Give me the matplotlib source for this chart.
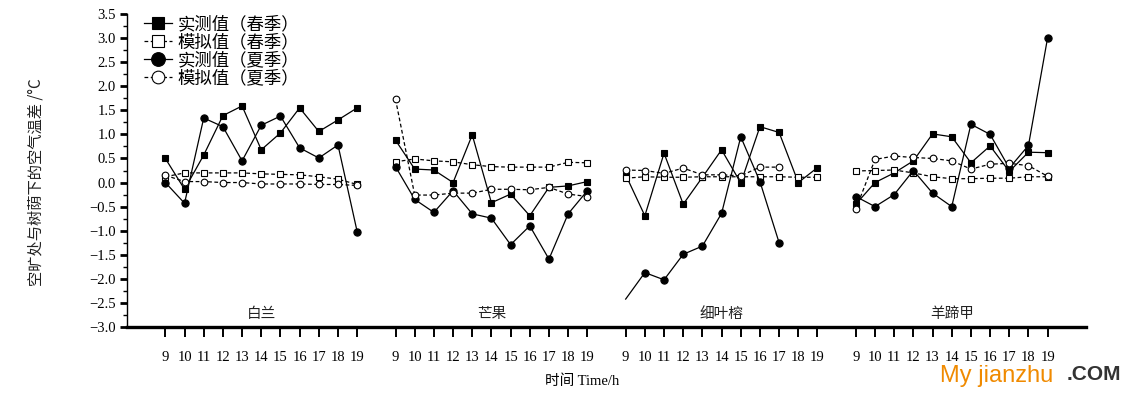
import matplotlib
matplotlib.use('Agg')
import matplotlib.pyplot as plt
import numpy as np

plt.rcParams['font.family'] = ['Liberation Serif', 'Noto Sans CJK SC']
plt.rcParams['axes.unicode_minus'] = True

CJK = ['Noto Sans CJK SC', 'DejaVu Sans']

# === data ===
hours = [9, 10, 11, 12, 13, 14, 15, 16, 17, 18, 19]
species = ['白兰', '芒果', '细叶榕', '羊蹄甲']

# 实测值（春季）
spring_meas_bailan  = [0.50, -0.14, 0.57, 1.39, 1.59, 0.68, 1.03, 1.55, 1.06, 1.30, 1.55]
spring_meas_mangguo = [0.88, 0.28, 0.26, 0.00, 0.99, -0.42, -0.24, -0.69, -0.10, -0.07, 0.02]
spring_meas_xiyerong = [0.16, -0.69, 0.61, -0.45, 0.11, 0.68, -0.01, 1.16, 1.04, 0.00, 0.31]
spring_meas_yangtijia = [-0.45, 0.00, 0.20, 0.45, 1.01, 0.95, 0.41, 0.76, 0.23, 0.63, 0.62]

# 模拟值（春季）
spring_sim_bailan  = [0.12, 0.20, 0.20, 0.20, 0.20, 0.18, 0.17, 0.16, 0.12, 0.07, -0.04]
spring_sim_mangguo = [0.43, 0.49, 0.45, 0.43, 0.37, 0.33, 0.32, 0.32, 0.32, 0.42, 0.41]
spring_sim_xiyerong = [0.09, 0.12, 0.11, 0.11, 0.12, 0.12, 0.12, 0.12, 0.12, 0.11, 0.11]
spring_sim_yangtijia = [0.24, 0.25, 0.26, 0.20, 0.12, 0.08, 0.08, 0.09, 0.09, 0.12, 0.12]

# 实测值（夏季）
summer_meas_bailan  = [0.00, -0.43, 1.34, 1.16, 0.45, 1.19, 1.38, 0.72, 0.51, 0.78, -1.02]
summer_meas_mangguo = [0.33, -0.35, -0.62, -0.17, -0.65, -0.74, -1.29, -0.90, -1.59, -0.65, -0.17]
summer_meas_xiyerong = [-2.42, -1.87, -2.02, -1.49, -1.32, -0.64, 0.95, 0.02, -1.25, np.nan, np.nan]
summer_meas_yangtijia = [-0.29, -0.50, -0.25, 0.25, -0.22, -0.50, 1.21, 1.00, 0.30, 0.77, 3.01]

# 模拟值（夏季）
summer_sim_bailan  = [0.15, 0.02, 0.02, 0.00, 0.00, -0.03, -0.03, -0.03, -0.04, -0.04, -0.06]
summer_sim_mangguo = [1.73, -0.26, -0.26, -0.22, -0.22, -0.14, -0.14, -0.15, -0.10, -0.24, -0.29]
summer_sim_xiyerong = [0.26, 0.25, 0.19, 0.30, 0.16, 0.16, 0.14, 0.32, 0.32, np.nan, np.nan]
summer_sim_yangtijia = [-0.55, 0.48, 0.55, 0.52, 0.50, 0.45, 0.28, 0.38, 0.40, 0.35, 0.13]


def _join(groups):
    # put the four species side by side, NaN between them so lines break
    xs, ys = [], []
    for g, vals in enumerate(groups):
        xs += [g * 12 + (h - 9) for h in hours] + [np.nan]
        ys += list(vals) + [np.nan]
    return np.array(xs, float), np.array(ys, float)


fig = plt.figure(figsize=(11.32, 3.93), dpi=100)
ax = fig.add_axes([127 / 1132, 1 - 327 / 393, (1086 - 127) / 1132, (327 - 14) / 393])

series = [
    ('实测值（春季）', [spring_meas_bailan, spring_meas_mangguo, spring_meas_xiyerong, spring_meas_yangtijia],
     dict(marker='s', ls='-', mfc='black', ms=4.6)),
    ('模拟值（春季）', [spring_sim_bailan, spring_sim_mangguo, spring_sim_xiyerong, spring_sim_yangtijia],
     dict(marker='s', ls=(0, (3, 2)), mfc='white', ms=4.4)),
    ('实测值（夏季）', [summer_meas_bailan, summer_meas_mangguo, summer_meas_xiyerong, summer_meas_yangtijia],
     dict(marker='o', ls='-', mfc='black', ms=5.2)),
    ('模拟值（夏季）', [summer_sim_bailan, summer_sim_mangguo, summer_sim_xiyerong, summer_sim_yangtijia],
     dict(marker='o', ls=(0, (3, 2)), mfc='white', ms=4.8)),
]

for label, groups, st in series:
    x, y = _join(groups)
    mask = np.ones(len(x), bool)
    if label == '实测值（夏季）':
        # first 细叶榕 point has no marker in the original
        mask[2 * 12] = False
    ax.plot(x, y, color='black', lw=0.9, mec='black', mew=0.8,
            markevery=list(mask), label=label, **st)

# species names inside the plot
for g, name in enumerate(species):
    ax.text(g * 12 + 5, -2.72, name, ha='center', va='center',
            fontsize=10.5, family=CJK, color='#222222')

# axes styling
ax.set_xlim(-2, 48)
ax.set_ylim(-3.0, 3.5)
ax.spines['top'].set_visible(False)
ax.spines['right'].set_visible(False)
ax.spines['left'].set_linewidth(1.0)
ax.spines['bottom'].set_linewidth(2.4)

tpos = [g * 12 + (h - 9) for g in range(4) for h in hours]
ax.set_xticks(tpos)
ax.set_xticklabels([str(h) for g in range(4) for h in hours], fontsize=10.5)
ax.tick_params(axis='x', direction='out', length=7, width=1.4, pad=10)

ax.set_yticks(np.arange(-3.0, 3.51, 0.5))
ax.set_yticks(np.arange(-2.75, 3.5, 0.5), minor=True)
ax.tick_params(axis='y', which='major', direction='out', length=5, width=2.0, labelsize=10.5, pad=3)
ax.tick_params(axis='y', which='minor', direction='out', length=3, width=1.0)

ax.set_ylabel('空旷处与树荫下的空气温差 /°C', family=CJK, fontsize=11, color='#222222')
ax.yaxis.set_label_coords(-0.086, 0.463)
fig.text(582 / 1132, 1 - 381 / 393, '时间 Time/h', ha='center', va='center', fontsize=10.5,
         family=['Liberation Serif', 'Noto Sans CJK SC'])

leg = ax.legend(loc='upper left', bbox_to_anchor=(0.005, 1.035), frameon=False,
                prop={'family': CJK, 'size': 12.5}, markerscale=1.9,
                handlelength=1.6, handletextpad=0.35, labelspacing=0.0, borderpad=0.2)

# site watermark
fig.text(940 / 1132, 1 - 376 / 393, 'My jianzhu', color='#F08A00', fontsize=17,
         family='Liberation Sans', va='center', ha='left')
fig.text(1067 / 1132, 1 - 375 / 393, '.COM', color='#333333', fontsize=15,
         family='Liberation Sans', fontweight='bold', va='center', ha='left')

fig.savefig('out.png', dpi=100, facecolor='white')
